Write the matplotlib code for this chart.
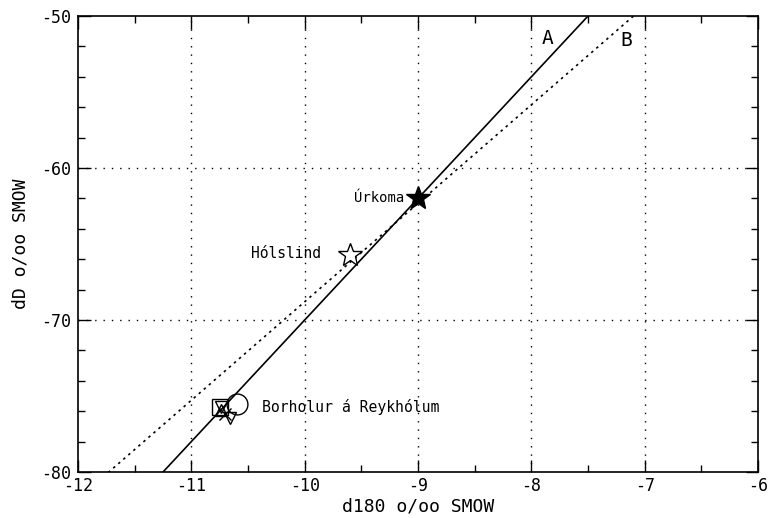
import matplotlib
matplotlib.use("Agg")
import matplotlib.pyplot as plt
import numpy as np

plt.rcParams['font.family'] = ['DejaVu Sans Mono', 'DejaVu Sans']
plt.rcParams['axes.unicode_minus'] = False

# sample points (d18O, dD)
urkoma = (-9.0, -62.0)
holslind = (-9.6, -65.7)
bor_x = [-10.75, -10.74, -10.74, -10.70, -10.66, -10.60]
bor_y = [-75.7, -75.9, -75.7, -76.2, -76.45, -75.5]
bor_markers = ['s', '^', 'v', 'x', 'v', 'o']
bor_sizes = [11, 9, 9, 8, 9, 15]

# line A: global meteoric water line, line B: local fit
a_slope, a_icpt = 8.0, 10.0
b_slope, b_icpt = 6.48, -4.0

fig = plt.figure(figsize=(7.7, 5.18), dpi=100)
ax = fig.add_axes([0.1013, 0.0888, 0.8831, 0.8802])

xs = np.array([-12, -6])
ax.plot(xs, a_slope * xs + a_icpt, color='black', lw=1.2, zorder=3)
ax.plot(xs, b_slope * xs + b_icpt, color='black', lw=1.2,
        linestyle=(0, (1.5, 2.5)), zorder=3)

ax.plot(*urkoma, marker='*', ms=18, color='black', mfc='black', zorder=5)
ax.plot(*holslind, marker='*', ms=18, color='black', mfc='white', mew=1, zorder=5)
for x, y, m, s in zip(bor_x, bor_y, bor_markers, bor_sizes):
    ax.plot(x, y, marker=m, ms=s, mfc='none', mec='black', mew=1, zorder=5)

ax.text(-9.12, -62.0, 'Úrkoma', ha='right', va='center', fontsize=10)
ax.text(-10.47, -65.6, 'Hólslind', ha='left', va='center', fontsize=10.5)
ax.text(-10.38, -75.7, 'Borholur á Reykhólum', ha='left', va='center', fontsize=10.6)
ax.text(-7.86, -51.5, 'A', ha='center', va='center', fontsize=14)
ax.text(-7.16, -51.6, 'B', ha='center', va='center', fontsize=14)

ax.set_xlim(-12, -6)
ax.set_ylim(-80, -50)
ax.set_xticks(np.arange(-12, -5, 1))
ax.set_xticks(np.arange(-12, -5.9, 0.5), minor=True)
ax.set_yticks(np.arange(-80, -49, 10))
ax.set_yticks(np.arange(-80, -49, 2), minor=True)
ax.tick_params(which='both', direction='in', top=True, right=True,
               labelsize=12, width=1)
ax.tick_params(which='major', length=9)
ax.tick_params(which='minor', length=5)
ax.tick_params(axis='y', pad=5)

for gx in range(-11, -6):
    ax.axvline(gx, color='black', lw=1, linestyle=(0, (1, 5)), zorder=1)
for gy in (-70, -60):
    ax.axhline(gy, color='black', lw=1, linestyle=(0, (1, 5)), zorder=1)

for sp in ax.spines.values():
    sp.set_linewidth(1.2)

ax.set_xlabel('d180 o/oo SMOW', fontsize=13, labelpad=2)
ax.set_ylabel('dD o/oo SMOW', fontsize=13, labelpad=8)

plt.savefig('out.png', dpi=100)
